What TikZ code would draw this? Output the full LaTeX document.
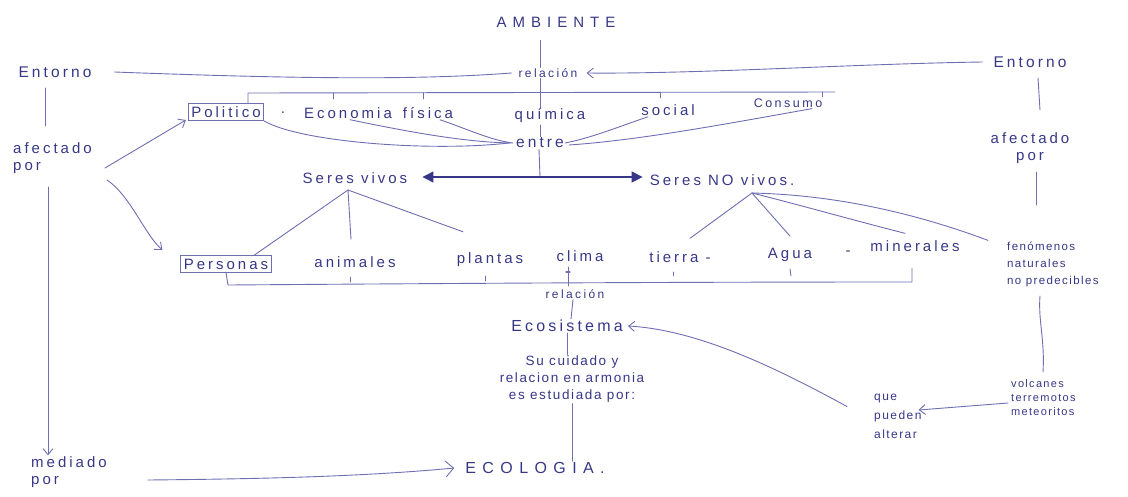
\documentclass[tikz,border=0pt]{standalone}
\usepackage{fontspec}
\usetikzlibrary{arrows.meta}
\newfontfamily\hand[LetterSpace=20]{Liberation Sans}
\newfontfamily\handtight[LetterSpace=12]{Liberation Sans}
\newfontfamily\handcaps[LetterSpace=40]{Liberation Sans}
\definecolor{ink}{RGB}{55,55,135}
\definecolor{pen}{RGB}{110,110,178}
\tikzset{
  lbl/.style={font=\hand\fontsize{15}{17}\selectfont, text=ink, inner sep=1pt},
  sml/.style={font=\handtight\fontsize{11.5}{17}\selectfont, text=ink, inner sep=1pt, align=left},
  framed/.style={draw=pen, line width=0.9pt, inner sep=3pt},
  link/.style={draw=pen, line width=0.9pt, line cap=round, line join=round},
  arr/.style={link, -{Straight Barb[length=6pt,width=10pt]}},
  bigtip/.style={link, line width=1.2pt, draw=ink,
    {Triangle[length=11pt,width=11pt]}-{Triangle[length=11pt,width=11pt]}},
}
\begin{document}
\begin{tikzpicture}[x=1pt,y=-1pt]
\useasboundingbox (0,0) rectangle (1128,496);

% --- top level
\node[lbl, font=\handcaps\fontsize{15}{17}\selectfont] (amb) at (556,22) {AMBIENTE};
\node[lbl, font=\hand\fontsize{12}{14}\selectfont] (rel1) at (548,73) {relación};
\node[lbl, font=\hand\fontsize{15.5}{17}\selectfont] (entL) at (55,72) {Entorno};
\node[lbl, font=\hand\fontsize{15.5}{17}\selectfont] (entR) at (1030,62) {Entorno};
\node[lbl, align=left, anchor=west] (afL) at (12,158) {afectado\\por};
\node[lbl, align=center] (afR) at (1030,148) {afectado\\por};

% --- relation row
\node[lbl, framed] (pol) at (226,112) {Politico};
\node[lbl] (dot) at (283,113) {.};
\node[lbl] (eco) at (348,113) {Economia};
\node[lbl] (fis) at (428,113) {física};
\node[lbl] (qui) at (550,116) {química};
\node[lbl] (soc) at (668,110) {social};
\node[lbl, font=\hand\fontsize{12.5}{14}\selectfont] (con) at (788,103) {Consumo};
\node[lbl, font=\hand\fontsize{15.5}{17}\selectfont] (entre) at (540,143) {entre};

% --- living / non living
\node[lbl] (sv) at (355,178) {Seres vivos};
\node[lbl] (snv) at (722,180) {Seres NO vivos.};

\node[lbl, framed] (per) at (226,264) {Personas};
\node[lbl] (ani) at (355,262) {animales};
\node[lbl] (pla) at (490,260) {plantas};
\node[lbl] (cli) at (580,256) {clima};
\node[lbl] (tie) at (680,257) {tierra -};
\node[lbl] (agu) at (790,255) {Agua};
\node[lbl] (dsh) at (848,253) {-};
\node[lbl] (min) at (915,246) {minerales};
\node[sml, anchor=west] (fen) at (1006,264) {fenómenos\\naturales\\no predecibles};

% --- lower chain
\node[lbl, font=\hand\fontsize{12}{14}\selectfont] (rel2) at (575,294) {relación};
\node[lbl, font=\hand\fontsize{16}{17}\selectfont] (ecos) at (567,326) {Ecosistema};
\node[lbl, align=center, font=\handtight\fontsize{13.5}{17}\selectfont] (cuid) at (572,379) {Su cuidado y\\relacion en armonia\\es estudiada por:};
\node[lbl, font=\handcaps\fontsize{16}{17}\selectfont] (ecol) at (535,468) {ECOLOGIA.};
\node[lbl, align=left, anchor=west] (med) at (30,472) {mediado\\por};
\node[sml, anchor=west, font=\handtight\fontsize{11}{14}\selectfont] (volc) at (1010,398) {volcanes\\terremotos\\meteoritos};
\node[sml, anchor=west, font=\handtight\fontsize{12}{19}\selectfont] (que) at (873,416) {que\\pueden\\alterar};

% --- connectors: top
\draw[link] ([xshift=-16pt,yshift=-12pt]amb.south) -- ([xshift=-8pt]rel1.north);
\draw[link] ([xshift=22pt]entL.east) .. controls (300,79) and (420,80) .. ([xshift=-6pt]rel1.west);
\draw[arr] ([xshift=-10pt]entR.west) .. controls (850,64) and (700,74) .. ([xshift=8pt]rel1.east);

% bracket over the relation row
\coordinate (bL) at (248,93);
\coordinate (bR) at (835,92);
\draw[link] (pol.north -| bL) -- (bL) -- (bR);
\draw[link] (333,93) -- (333,99);
\draw[link] (423,93) -- (423,99);
\draw[link] (660,92) -- (660,98);
\draw[link] (822,92) -- (822,97);
\draw[link] ([xshift=-8pt]rel1.south) -- ([xshift=-8pt]rel1.south |- qui.north);
\draw[link] (540,125) -- (entre.north -| 540,0);

% items converging on "entre"
\draw[link] (pol.south east) .. controls (300,142) and (430,152) .. ([xshift=-6pt]entre.west);
\draw[link] ([xshift=2pt]eco.south) .. controls (400,130) and (460,142) .. ([xshift=-4pt]entre.west);
\draw[link] ([xshift=12pt]fis.south) .. controls (470,130) and (490,140) .. ([xshift=-2pt]entre.west);
\draw[link] ([xshift=-20pt]soc.south) .. controls (610,130) and (590,138) .. (entre.east);
\draw[link] ([xshift=24pt]con.south) .. controls (720,125) and (640,140) .. ([xshift=4pt,yshift=-2pt]entre.east);

% split into living / non living
\coordinate (j) at (540,177);
\draw[link] ([xshift=-1pt]entre.south) -- (j);
\draw[bigtip, shorten <=14pt, shorten >=6pt] (sv.east |- j) -- (snv.west |- j);

% branches
\coordinate (svA) at (348,190);
\draw[link] (svA) -- ([xshift=28pt]per.north);
\draw[link] (svA) -- ([xshift=-4pt,yshift=16pt]ani.north);
\draw[link] (svA) -- ([xshift=-27pt,yshift=20pt]pla.north);

\coordinate (snvA) at (752,193);
\draw[link] (snvA) -- ([xshift=10pt,yshift=12pt]tie.north);
\draw[link] (snvA) -- ([yshift=11pt]agu.north);
\draw[link] (snvA) .. controls (800,205) and (860,222) .. ([xshift=-10pt,yshift=6pt]min.north);
\draw[link] (snvA) .. controls (840,195) and (920,215) .. ([xshift=-18pt]fen.north west);

% lower bracket
\coordinate (cL) at (228,285);
\coordinate (cR) at (912,282);
\draw[link] (per.south) -- (cL) .. controls (500,283) and (700,282) .. (cR) -- (912,268);
\draw[link] (350,277) -- (350,282);
\draw[link] (485,276) -- (485,281);
\draw[link] (568,267) -- (568,286);
\draw[link, line width=1.3pt] (566,272) -- (570,272);
\draw[link] (673,272) -- (673,276);
\draw[link] (790,269) -- (791,276);

% lower chain
\draw[link] ([xshift=-2pt]rel2.south) -- ([xshift=4pt]ecos.north);
\draw[link] (ecos.south) -- ([xshift=-5pt]cuid.north);
\draw[link] (cuid.south) -- (cuid.south |- ecol.north);

% left column
\draw[link] (45,88) -- (45,126);
\draw[arr] ([xshift=12pt,yshift=-10pt]afL.east) -- ([xshift=-2pt,yshift=-8pt]pol.west);
\draw[arr] ([xshift=14pt,yshift=-22pt]afL.east) .. controls (130,195) and (145,235) .. ([xshift=-18pt,yshift=14pt]per.west);
\draw[arr] (48,187) -- ([xshift=18pt]med.north west);
\draw[arr, -{Straight Barb[length=8pt,width=16pt]}] ([xshift=40pt,yshift=-8pt]med.east) .. controls (250,479) and (360,477) .. ([xshift=-10pt]ecol.west);

% right column
\draw[link] (1038,78) -- (1040,110);
\draw[link] (1036,172) -- (1036,205);
\draw[link] (1040,296) .. controls (1038,320) and (1045,340) .. (1043,372);
\draw[arr] ([xshift=-2pt,yshift=-5pt]volc.west) -- ([xshift=-4pt]que.east |- 0,410);
\draw[arr] ([xshift=-26pt,yshift=-14pt]que.north west) .. controls (780,370) and (700,330) .. ([xshift=4pt]ecos.east);

\end{tikzpicture}
\end{document}
